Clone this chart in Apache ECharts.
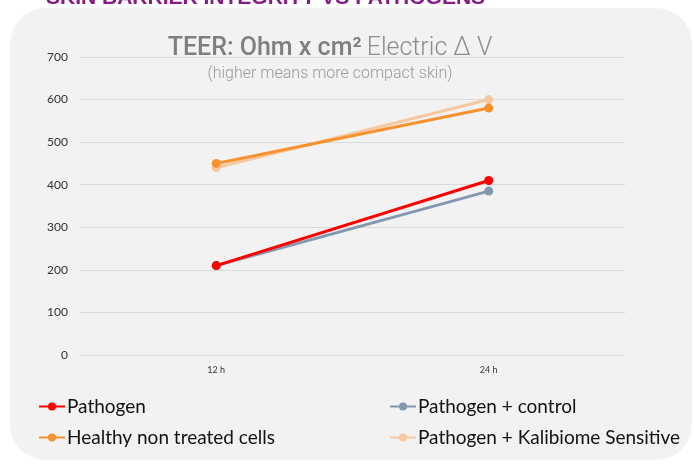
<!DOCTYPE html>
<html>
<head>
<meta charset="utf-8">
<script src="https://cdn.jsdelivr.net/npm/echarts@6/dist/echarts.min.js"></script>
<style>
  html, body { margin: 0; padding: 0; background: #fff; }
  #chart { width: 694px; height: 464px; }
</style>
</head>
<body>
<div id="chart"></div>
<script>
const categories = ['12 h', '24 h']
const pathogen = [210, 410]
const pathogenControl = [210, 385]
const healthy = [450, 580]
const kalibiome = [440, 600]

const seriesNames = ['Pathogen', 'Pathogen + control', 'Healthy non treated cells', 'Pathogen + Kalibiome Sensitive']
const seriesColors = ['#ff0000', '#8497b0', '#f7922e', '#f6c8a2']

const chart = echarts.init(document.getElementById('chart'))

function lineSeries (name, data, color, z) {
  return {
    name: name,
    type: 'line',
    data: data,
    z: z,
    symbol: 'circle',
    symbolSize: 9,
    lineStyle: { width: 3, color: color },
    itemStyle: { color: color }
  }
}

const legendText = { fontFamily: 'Lato', fontSize: 19, color: '#111', padding: [0, 0, 0, -3] }

chart.setOption({
  animation: false,
  backgroundColor: '#ffffff',
  graphic: [
    {
      type: 'rect',
      z: -10,
      shape: { x: 10, y: 8, width: 682, height: 452, r: 36 },
      style: { fill: '#f2f2f2' }
    },
    {
      type: 'text',
      left: 46,
      top: -12,
      style: {
        text: 'SKIN BARRIER INTEGRITY VS PATHOGENS',
        fontFamily: 'Liberation Sans',
        fontWeight: 'bold',
        fontSize: 21,
        fill: '#861a86'
      }
    }
  ],
  title: {
    text: '{b|TEER: Ohm x cm²} {l|Electric \u0394 V}',
    subtext: '(higher means more compact skin)',
    left: 325,
    textAlign: 'center',
    top: 31,
    itemGap: 5,
    textStyle: {
      rich: {
        b: { fontFamily: 'Roboto', fontSize: 25, fontWeight: 500, color: '#7f7f7f' },
        l: { fontFamily: 'Roboto', fontSize: 25, fontWeight: 300, color: '#8c8c8c' }
      }
    },
    subtextStyle: { fontFamily: 'Roboto', fontSize: 16, fontWeight: 300, color: '#9a9a9a' }
  },
  legend: [
    {
      data: [seriesNames[0], seriesNames[2]],
      orient: 'vertical',
      left: 38,
      top: 397,
      padding: 0,
      itemGap: 12,
      itemWidth: 26,
      itemHeight: 10,
      textStyle: legendText
    },
    {
      data: [seriesNames[1], seriesNames[3]],
      orient: 'vertical',
      left: 389,
      top: 397,
      padding: 0,
      itemGap: 12,
      itemWidth: 26,
      itemHeight: 10,
      textStyle: legendText
    }
  ],
  grid: { left: 80, right: 69, top: 57, bottom: 109 },
  xAxis: {
    type: 'category',
    data: categories,
    boundaryGap: true,
    axisLine: { show: false },
    axisTick: { show: false },
    axisLabel: { fontFamily: 'Lato', fontSize: 9, color: '#333', margin: 11 }
  },
  yAxis: {
    type: 'value',
    min: 0,
    max: 700,
    interval: 100,
    axisLine: { show: false },
    axisTick: { show: false },
    axisLabel: { fontFamily: 'Lato', fontSize: 12, color: '#333', margin: 12 },
    splitLine: { lineStyle: { color: '#d9d9d9', width: 1 } }
  },
  series: [
    lineSeries(seriesNames[1], pathogenControl, seriesColors[1], 2),
    lineSeries(seriesNames[0], pathogen, seriesColors[0], 3),
    lineSeries(seriesNames[3], kalibiome, seriesColors[3], 2),
    lineSeries(seriesNames[2], healthy, seriesColors[2], 3)
  ]
})
</script>
</body>
</html>
